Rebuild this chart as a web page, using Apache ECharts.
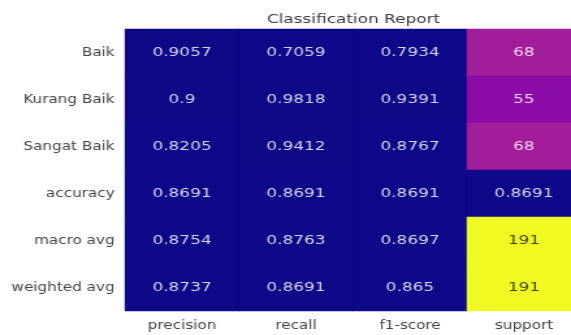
<!DOCTYPE html>
<html><head><meta charset="utf-8">
<script src="https://cdn.jsdelivr.net/npm/echarts@6/dist/echarts.min.js"></script>
<style>
html,body{margin:0;padding:0;background:#fff;overflow:hidden;width:571px;height:335px}
#c{width:452px;height:335px;transform:scaleX(1.3007);transform-origin:0 0}
</style>
</head><body><div id="c"></div>
<script>
const rowLabels = ['Baik', 'Kurang Baik', 'Sangat Baik', 'accuracy', 'macro avg', 'weighted avg'];
const colLabels = ['precision', 'recall', 'f1-score', 'support'];
const precision = [0.9057, 0.9, 0.8205, 0.8691, 0.8754, 0.8737];
const recall    = [0.7059, 0.9818, 0.9412, 0.8691, 0.8763, 0.8691];
const f1score   = [0.7934, 0.9391, 0.8767, 0.8691, 0.8697, 0.865];
const support   = [68, 55, 68, 0.8691, 191, 191];

const plasma = ['#0d0887','#41049d','#6a00a8','#8f0da4','#b12a90','#cc4778','#e16462','#f2844b','#fca636','#fcce25','#f0f921'];
function hex(h){return [1,3,5].map(i=>parseInt(h.substr(i,2),16));}
function cmap(t){
  t = Math.max(0, Math.min(1, t));
  const x = t * (plasma.length - 1), i = Math.min(Math.floor(x), plasma.length - 2), f = x - i;
  const a = hex(plasma[i]), b = hex(plasma[i+1]);
  return 'rgb(' + a.map((v,k)=>Math.round(v + (b[k]-v)*f)).join(',') + ')';
}

const cols = [precision, recall, f1score, support];
let vmin = Infinity, vmax = -Infinity;
cols.forEach(arr => arr.forEach(v => { vmin = Math.min(vmin, v); vmax = Math.max(vmax, v); }));
const data = [];
cols.forEach((arr, ci) => arr.forEach((v, ri) => {
  const t = (v - vmin) / (vmax - vmin);
  const c = cmap(t);
  data.push({
    value: [ci, ri, v],
    itemStyle: { color: c },
    label: { color: t > 0.6 ? 'rgba(50,50,20,0.9)' : (t > 0.2 ? 'rgba(250,220,245,0.95)' : 'rgba(222,222,248,0.95)') }
  });
}));

const S = 1.3007;
const chart = echarts.init(document.getElementById('c'), null, {renderer: 'canvas'});
chart.setOption({
  animation: false,
  backgroundColor: '#ffffff',
  title: {
    text: 'Classification Report', left: 353.5 / S, top: 13, textAlign: 'center', padding: 0,
    textStyle: { fontFamily: 'DejaVu Sans', fontSize: 13, fontWeight: 'normal', color: '#3a3a3a' }
  },
  grid: { left: 125 / S, top: 29, width: 456 / S, height: 282, show: true, borderWidth: 0, backgroundColor: cmap(0) },
  xAxis: {
    type: 'category', data: colLabels, position: 'bottom',
    axisLine: { show: false }, axisTick: { show: false }, splitLine: { show: false },
    axisLabel: { fontFamily: 'DejaVu Sans', fontSize: 11.7, color: '#444', margin: 9 }
  },
  yAxis: {
    type: 'category', data: rowLabels, inverse: true,
    axisLine: { show: false }, axisTick: { show: false }, splitLine: { show: false },
    axisLabel: { fontFamily: 'DejaVu Sans', fontSize: 11.7, color: '#444', margin: 8 }
  },
  series: [{
    type: 'heatmap', data: data,
    label: {
      show: true, fontFamily: 'DejaVu Sans', fontSize: 13,
      formatter: p => String(p.value[2])
    },
    emphasis: { disabled: true }
  }]
});
</script></body></html>
